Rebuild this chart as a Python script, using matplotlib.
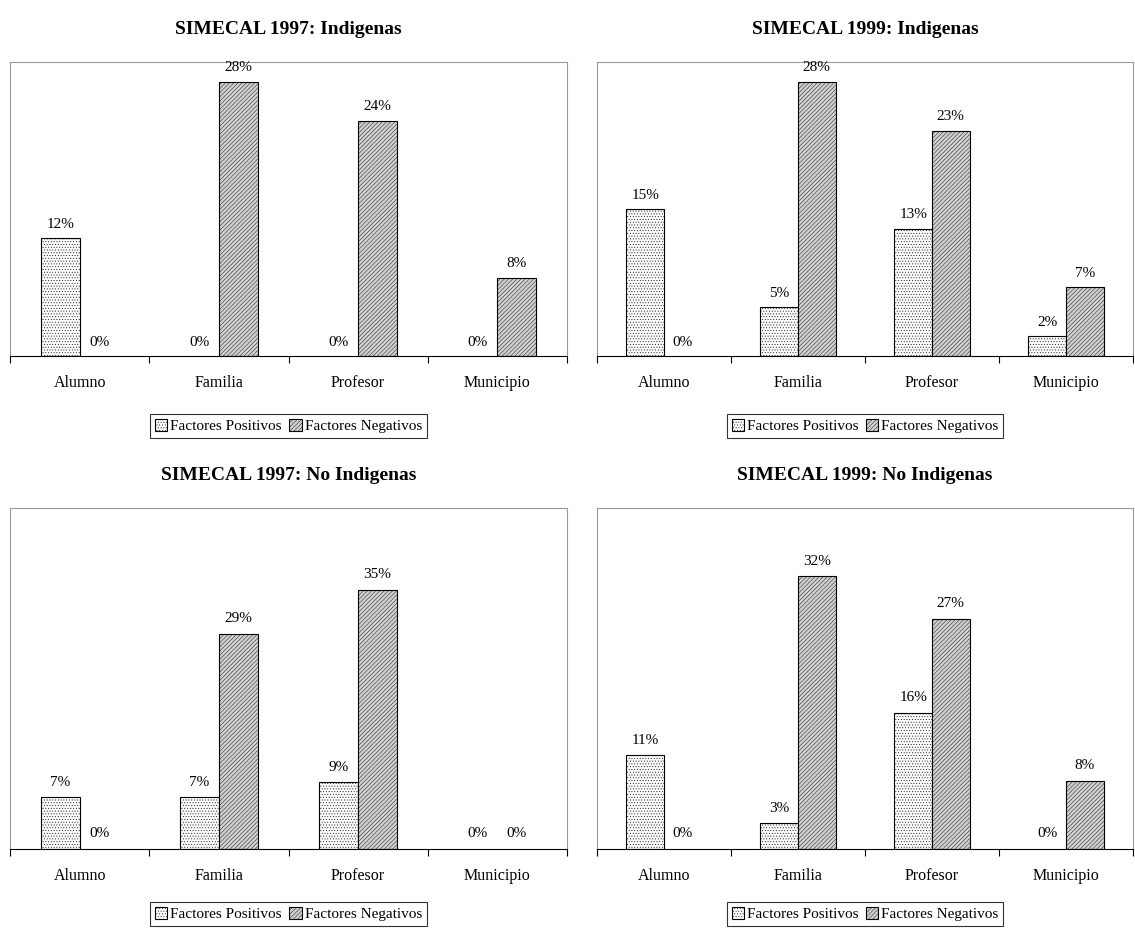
import numpy as np
import matplotlib.pyplot as plt
import matplotlib as mpl
from matplotlib.patches import Patch

plt.rcParams['font.family'] = ['Liberation Serif', 'DejaVu Serif']
mpl.rcParams['hatch.linewidth'] = 0.3
mpl.rcParams['hatch.color'] = '#9a9a9a'

categories = ['Alumno', 'Familia', 'Profesor', 'Municipio']
titles = ['SIMECAL 1997: Indigenas', 'SIMECAL 1999: Indigenas',
          'SIMECAL 1997: No Indigenas', 'SIMECAL 1999: No Indigenas']
positivos = [[12, 0, 0, 0], [15, 5, 13, 2], [7, 7, 9, 0], [11, 3, 16, 0]]
negativos = [[0, 28, 24, 8], [0, 28, 23, 7], [0, 29, 35, 0], [0, 32, 27, 8]]
ymax = [30, 30, 46, 40]

pos_style = dict(facecolor='#fbfbfb', edgecolor='black', hatch='......', linewidth=0.8)
neg_style = dict(facecolor='#d0d0d0', edgecolor='black', hatch='////////', linewidth=0.8)

W, H = 1135, 936
fig = plt.figure(figsize=(W / 100, H / 100), dpi=100)
# axes boxes in pixels: left, top, right, bottom
boxes = [(10, 62, 567, 356), (597, 62, 1133, 356),
         (10, 508, 567, 849), (597, 508, 1133, 849)]
legend_y = [426, 426, 914, 914]

x = np.arange(len(categories))
bw = 0.28
for i, (l, t, r, b) in enumerate(boxes):
    ax = fig.add_axes([l / W, 1 - b / H, (r - l) / W, (b - t) / H])
    p = ax.bar(x - bw / 2, positivos[i], bw, **pos_style)
    n = ax.bar(x + bw / 2, negativos[i], bw, **neg_style)
    off = ymax[i] * 0.025
    for bars, vals in ((p, positivos[i]), (n, negativos[i])):
        for rect, v in zip(bars, vals):
            if v == 0:
                rect.set_visible(False)
            ax.text(rect.get_x() + rect.get_width() / 2, v + off, f'{v}%',
                    ha='center', va='bottom', fontsize=11)
    ax.set_xlim(-0.5, 3.5)
    ax.set_ylim(0, ymax[i])
    ax.set_yticks([])
    ax.set_xticks(np.arange(-0.5, 4, 1))
    ax.set_xticklabels([])
    ax.set_xticks(x, minor=True)
    ax.set_xticklabels(categories, minor=True, fontsize=11.5)
    ax.tick_params(axis='x', which='major', direction='out', length=5, color='black')
    ax.tick_params(axis='x', which='minor', length=0, pad=14)
    for s in ('top', 'left', 'right'):
        ax.spines[s].set_color('#999999')
        ax.spines[s].set_linewidth(0.8)
    ax.spines['bottom'].set_color('black')
    ax.set_title(titles[i], fontsize=14, fontweight='bold', pad=20)
    handles = [Patch(label='Factores Positivos', **pos_style),
               Patch(label='Factores Negativos', **neg_style)]
    leg = fig.legend(handles=handles, loc='center',
                     bbox_to_anchor=((l + r) / 2 / W, 1 - legend_y[i] / H),
                     ncol=2, frameon=True, fancybox=False, fontsize=11,
                     handlelength=0.8, handleheight=0.8, handletextpad=0.2,
                     columnspacing=0.5, borderpad=0.3)
    leg.get_frame().set_edgecolor('black')
    leg.get_frame().set_linewidth(0.8)

fig.savefig('out.png', dpi=100)
